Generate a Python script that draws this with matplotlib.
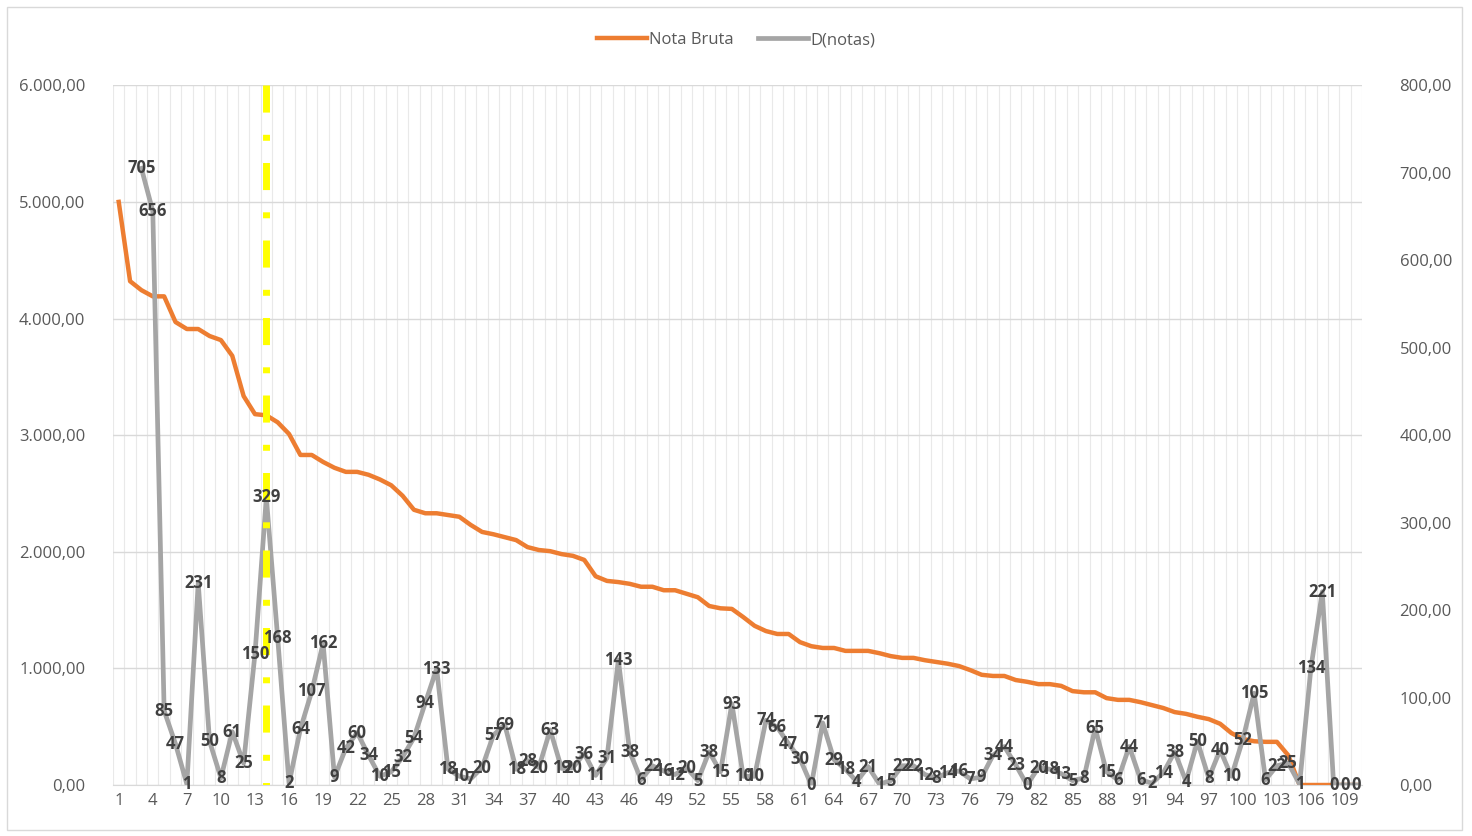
import matplotlib.pyplot as plt
from matplotlib.patches import Rectangle

plt.rcParams['font.family'] = ['Open Sans', 'DejaVu Sans']

# categories 1..110
categories = list(range(1, 111))

# Nota Bruta (left axis)
nota_bruta = [5000, 4320, 4243, 4190, 4190, 3970, 3910, 3910, 3850, 3815,
              3680, 3335, 3180, 3170, 3110, 3010, 2830, 2830, 2770, 2720,
              2685, 2685, 2660, 2620, 2570, 2480, 2360, 2330, 2330, 2315,
              2300, 2230, 2170, 2150, 2125, 2100, 2040, 2015, 2005, 1980,
              1965, 1930, 1790, 1750, 1740, 1725, 1700, 1700, 1670, 1670,
              1640, 1610, 1535, 1515, 1510, 1440, 1365, 1320, 1295, 1295,
              1225, 1190, 1175, 1175, 1150, 1150, 1150, 1130, 1105, 1090,
              1090, 1070, 1055, 1040, 1020, 985, 945, 935, 935, 900,
              885, 865, 865, 850, 805, 795, 795, 745, 730, 730,
              710, 685, 660, 625, 610, 585, 565, 525, 445, 395,
              375, 370, 370, 255, 0, 0, 0, 0, 0, 0]

# D(notas) (right axis), starts at category 3
d_start = 3
d_notas = [705, 656, 85, 47, 1, 231, 50, 8, 61, 25,
           150, 329, 168, 2, 64, 107, 162, 9, 42, 60,
           34, 10, 15, 32, 54, 94, 133, 18, 10, 7,
           20, 57, 69, 18, 28, 20, 63, 19, 20, 36,
           11, 31, 143, 38, 6, 22, 16, 12, 20, 5,
           38, 15, 93, 10, 10, 74, 66, 47, 30, 0,
           71, 29, 18, 4, 21, 1, 5, 22, 22, 12,
           8, 14, 16, 7, 9, 34, 44, 23, 0, 20,
           18, 13, 5, 8, 65, 15, 6, 44, 6, 2,
           14, 38, 4, 50, 8, 40, 10, 52, 105, 6,
           22, 25, 1, 134, 221, 0, 0, 0]
d_x = list(range(d_start, d_start + len(d_notas)))

marker_cat = 14

orange = '#ED7D31'
gray = '#A5A5A5'
txt = '#595959'


def fmt_br(v):
    s = '{:,.2f}'.format(v)
    return s.replace(',', 'X').replace('.', ',').replace('X', '.')


fig = plt.figure(figsize=(14.72, 8.36), dpi=100)
fig.patches.append(Rectangle((0.005, 0.007), 0.988, 0.985, transform=fig.transFigure,
                             fill=False, edgecolor='#D9D9D9', linewidth=1))
ax = fig.add_axes([0.0768, 0.061, 0.8485, 0.837])
ax2 = ax.twinx()

# vertical category gridlines
for c in categories:
    ax.axvline(c - 0.5, color='#E9E9E9', linewidth=0.8, zorder=0)
ax.axvline(110.5, color='#E9E9E9', linewidth=0.8, zorder=0)

ax.set_ylim(0, 6000)
ax.set_yticks(range(0, 6001, 1000))
ax.yaxis.grid(True, color='#D9D9D9', linewidth=1)
ax.set_axisbelow(True)
ax2.set_ylim(0, 800)
ax2.set_yticks(range(0, 801, 100))
ax.set_xlim(0.5, 110.5)
ax.set_xticks(categories[::3])

ax.set_yticklabels([fmt_br(v) for v in range(0, 6001, 1000)])
ax2.set_yticklabels([fmt_br(v) for v in range(0, 801, 100)])

for a in (ax, ax2):
    for sp in a.spines.values():
        sp.set_visible(False)
    a.tick_params(length=0, labelsize=12, labelcolor=txt)
ax.spines['bottom'].set_visible(True)
ax.spines['bottom'].set_color('#D9D9D9')
ax.tick_params(axis='y', pad=20)
ax2.tick_params(axis='y', pad=27)
ax.tick_params(axis='x', pad=6)

ax.plot(categories, nota_bruta, color=orange, linewidth=3.2, label='Nota Bruta',
        zorder=3, solid_joinstyle='round')
ax2.plot(d_x, d_notas, color=gray, linewidth=3.4, label='D(notas)',
         zorder=3, solid_joinstyle='round')
# yellow dash-dot marker, drawn from the top down
ax2.plot([marker_cat, marker_cat], [800, 0], color='#FFFF00', linewidth=5,
         linestyle=(0, (3.9, 3.2, 0.86, 3.2)), zorder=4)

for x, v in zip(d_x, d_notas):
    ax2.text(x, v, str(v), ha='center', va='center', fontsize=12,
             fontweight='bold', color='#404040', zorder=5)

h1, l1 = ax.get_legend_handles_labels()
h2, l2 = ax2.get_legend_handles_labels()
fig.legend(h1 + h2, l1 + l2, loc='center', bbox_to_anchor=(0.5, 0.952), ncol=2,
           frameon=False, fontsize=12, labelcolor=txt, handlelength=3,
           handletextpad=0.1, columnspacing=1.5)

fig.savefig('out.png', dpi=100)
